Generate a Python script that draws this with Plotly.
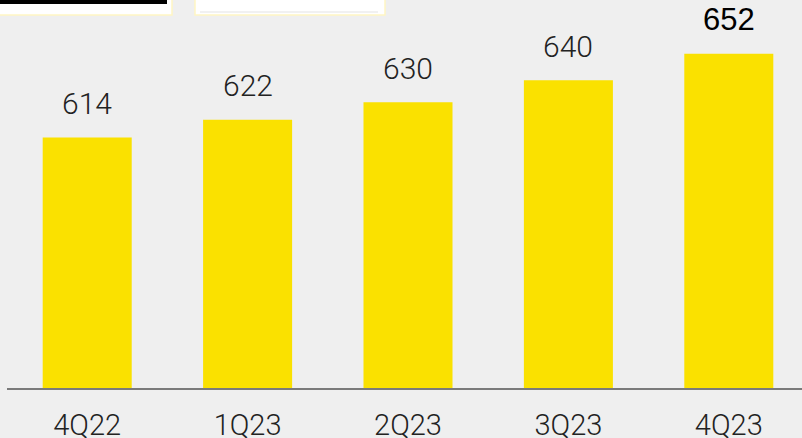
import plotly.graph_objects as go

categories = ["4Q22", "1Q23", "2Q23", "3Q23", "4Q23"]
values = [614, 622, 630, 640, 652]
value_labels = ["614", "622", "630", "640", "652"]

W, H = 802, 438
L, R, T, B = 7, 0, 0, 50
pw, ph = W - L - R, H - T - B

def px(x):
    return (x - L) / pw

def py(y):
    return (H - B - y) / ph

fig = go.Figure()
fig.add_trace(go.Bar(
    x=categories, y=values, marker=dict(color="#fae100", line=dict(width=0)),
    width=0.555, hoverinfo="skip",
))

annotations = []
for i, (c, v, t) in enumerate(zip(categories, values, value_labels)):
    last = i == len(categories) - 1
    if last:
        font = dict(size=31, color="#000000", family="Liberation Sans", weight=400)
    else:
        font = dict(size=30, color="#222222", family="Roboto", weight=300)
    annotations.append(dict(
        x=c, y=v, text=t, showarrow=False, yanchor="middle",
        yshift=34.5 if last else 34, font=font,
    ))

shapes = [
    # decorative panels cut at top
    dict(type="rect", xref="paper", yref="paper", x0=px(-2), x1=px(172), y0=py(15), y1=py(-2),
         fillcolor="#ffffff", line=dict(color="#fff6c4", width=1.5), layer="above"),
    dict(type="rect", xref="paper", yref="paper", x0=px(-2), x1=px(167), y0=py(4), y1=py(-2),
         fillcolor="#000000", line=dict(width=0), layer="above"),
    dict(type="rect", xref="paper", yref="paper", x0=px(195), x1=px(385), y0=py(15), y1=py(-2),
         fillcolor="#ffffff", line=dict(color="#fff6c4", width=1.5), layer="above"),
    dict(type="line", xref="paper", yref="paper", x0=px(200), x1=px(378), y0=py(12), y1=py(12),
         line=dict(color="#ececec", width=1.5), layer="above"),
]

fig.update_layout(
    width=W, height=H,
    margin=dict(l=L, r=R, t=T, b=B, pad=0, autoexpand=False),
    paper_bgcolor="#efefef", plot_bgcolor="#efefef",
    showlegend=False,
    annotations=annotations,
    shapes=shapes,
    xaxis=dict(
        range=[-0.5, -0.5 + pw / 160.4], showgrid=False, zeroline=False,
        showline=True, linecolor="#7a7a7a", linewidth=1.5,
        ticks="", ticklabelstandoff=10, automargin=False,
        tickfont=dict(size=29, color="#222222", family="Roboto", weight=300),
        fixedrange=True,
    ),
    yaxis=dict(range=[500, 676.5], visible=False, fixedrange=True, automargin=False),
)

fig.write_html(
    "out.html",
    config={"displayModeBar": False},
    post_script="document.body.style.margin='0';document.body.style.overflow='hidden';",
)
